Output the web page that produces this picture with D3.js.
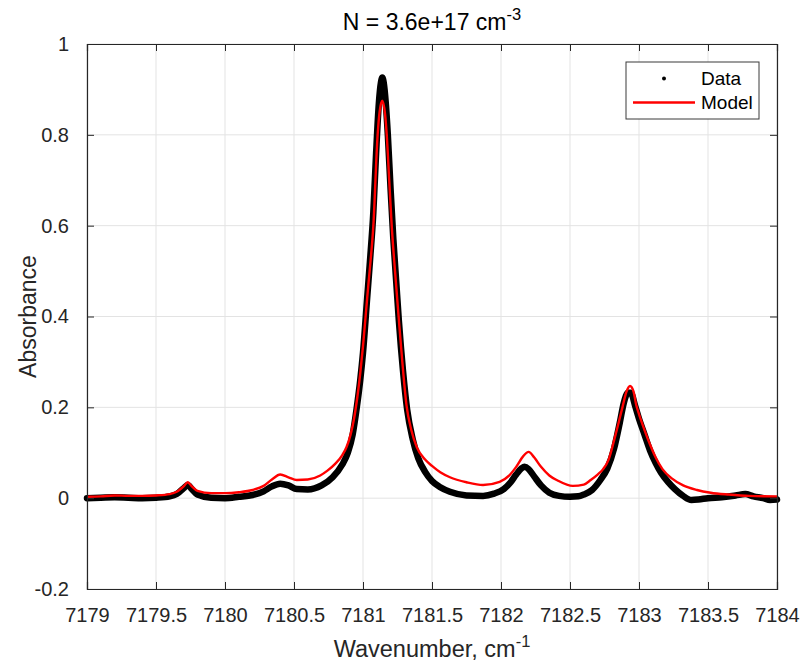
<!DOCTYPE html>
<html>
<head>
<meta charset="utf-8">
<script src="https://cdn.jsdelivr.net/npm/d3@7"></script>
<style>
  body { margin: 0; background: #fff; }
  text { font-family: "Liberation Sans", Arial, Helvetica, sans-serif; }
</style>
</head>
<body>
<div class="chart"></div>
<script>
// measured spectrum (black dots)
const dataX = [7179.00, 7179.10, 7179.20, 7179.30, 7179.40, 7179.50, 7179.60, 7179.65, 7179.70, 7179.73,
  7179.76, 7179.80, 7179.90, 7180.00, 7180.10, 7180.20, 7180.28, 7180.34, 7180.40, 7180.46,
  7180.52, 7180.60, 7180.70, 7180.78, 7180.85, 7180.89, 7180.925, 7180.955, 7180.98, 7181.00,
  7181.03, 7181.05, 7181.075, 7181.095, 7181.115, 7181.13, 7181.14, 7181.15, 7181.165, 7181.18,
  7181.20, 7181.22, 7181.24, 7181.26, 7181.29, 7181.32, 7181.36, 7181.40, 7181.45, 7181.50,
  7181.56, 7181.63, 7181.75, 7181.87, 7181.95, 7182.02, 7182.07, 7182.11, 7182.15, 7182.17,
  7182.20, 7182.24, 7182.29, 7182.35, 7182.42, 7182.50, 7182.56, 7182.60, 7182.66, 7182.72,
  7182.77, 7182.82, 7182.86, 7182.89, 7182.92, 7182.94, 7182.975, 7183.00, 7183.04, 7183.08,
  7183.12, 7183.16, 7183.21, 7183.26, 7183.32, 7183.38, 7183.43, 7183.50, 7183.60, 7183.70,
  7183.77, 7183.83, 7183.90, 7183.95, 7184.00];
const dataY = [0.000, 0.001, 0.002, 0.001, 0.000, 0.001, 0.004, 0.009, 0.022, 0.029,
  0.020, 0.008, 0.001, 0.000, 0.003, 0.007, 0.015, 0.026, 0.032, 0.028,
  0.020, 0.019, 0.028, 0.046, 0.074, 0.100, 0.140, 0.200, 0.260, 0.320,
  0.440, 0.520, 0.630, 0.760, 0.870, 0.915, 0.926, 0.915, 0.870, 0.800,
  0.680, 0.570, 0.480, 0.390, 0.280, 0.195, 0.130, 0.088, 0.058, 0.038,
  0.024, 0.014, 0.006, 0.005, 0.010, 0.020, 0.035, 0.052, 0.066, 0.069,
  0.064, 0.048, 0.028, 0.012, 0.005, 0.003, 0.004, 0.008, 0.018, 0.040,
  0.065, 0.110, 0.165, 0.210, 0.232, 0.232, 0.200, 0.175, 0.140, 0.105,
  0.078, 0.056, 0.036, 0.020, 0.005, -0.004, -0.003, 0.000, 0.002, 0.006,
  0.009, 0.004, 0.000, -0.004, -0.003];

// fitted model (red line)
const modelX = [7179.00, 7179.10, 7179.20, 7179.30, 7179.40, 7179.50, 7179.60, 7179.65, 7179.70, 7179.73,
  7179.76, 7179.80, 7179.90, 7180.00, 7180.10, 7180.20, 7180.28, 7180.34, 7180.40, 7180.46,
  7180.52, 7180.60, 7180.69, 7180.74, 7180.80, 7180.85, 7180.88, 7180.91, 7180.935, 7180.96,
  7180.98, 7181.00, 7181.03, 7181.048, 7181.075, 7181.106, 7181.12, 7181.14, 7181.16, 7181.172,
  7181.19, 7181.208, 7181.232, 7181.258, 7181.285, 7181.315, 7181.35, 7181.39, 7181.45, 7181.50,
  7181.56, 7181.63, 7181.75, 7181.87, 7181.99, 7182.06, 7182.11, 7182.16, 7182.20, 7182.24,
  7182.29, 7182.35, 7182.41, 7182.52, 7182.60, 7182.65, 7182.70, 7182.74, 7182.78, 7182.826,
  7182.88, 7182.91, 7182.935, 7182.96, 7182.98, 7183.00, 7183.04, 7183.08, 7183.12, 7183.17,
  7183.24, 7183.32, 7183.42, 7183.52, 7183.65, 7183.80, 7184.00];
const modelY = [0.003, 0.004, 0.006, 0.005, 0.005, 0.006, 0.009, 0.014, 0.026, 0.035,
  0.026, 0.016, 0.011, 0.011, 0.013, 0.018, 0.027, 0.041, 0.052, 0.046,
  0.040, 0.041, 0.050, 0.060, 0.076, 0.095, 0.112, 0.140, 0.175, 0.225,
  0.275, 0.335, 0.440, 0.500, 0.600, 0.800, 0.850, 0.875, 0.845, 0.800,
  0.700, 0.600, 0.500, 0.400, 0.300, 0.205, 0.150, 0.112, 0.085, 0.071,
  0.057, 0.046, 0.035, 0.029, 0.036, 0.050, 0.069, 0.092, 0.102, 0.090,
  0.069, 0.050, 0.039, 0.027, 0.030, 0.040, 0.052, 0.064, 0.085, 0.135,
  0.200, 0.235, 0.247, 0.235, 0.205, 0.185, 0.150, 0.118, 0.090, 0.064,
  0.043, 0.028, 0.018, 0.012, 0.008, 0.005, 0.004];

const xTicks = [7179, 7179.5, 7180, 7180.5, 7181, 7181.5, 7182, 7182.5, 7183, 7183.5, 7184];
const yTicks = [-0.2, 0, 0.2, 0.4, 0.6, 0.8, 1];
const seriesNames = ["Data", "Model"];

const W = 803, H = 666;
const margin = {top: 44, right: 26, bottom: 77, left: 87};
const width = W - margin.left - margin.right;
const height = H - margin.top - margin.bottom;
const axisColor = "#262626";

const svg = d3.select(".chart")
  .append("svg")
    .attr("width", W)
    .attr("height", H);

const g = svg.append("g")
  .attr("transform", `translate(${margin.left}, ${margin.top})`);

const x = d3.scaleLinear().domain([7179, 7184]).range([0, width]);
const y = d3.scaleLinear().domain([-0.2, 1]).range([height, 0]);

// grid
g.append("g")
  .selectAll("line")
  .data(xTicks)
  .enter()
  .append("line")
    .attr("x1", d => x(d)).attr("x2", d => x(d))
    .attr("y1", 0).attr("y2", height)
    .attr("stroke", "#e3e3e3");
g.append("g")
  .selectAll("line")
  .data(yTicks)
  .enter()
  .append("line")
    .attr("x1", 0).attr("x2", width)
    .attr("y1", d => y(d)).attr("y2", d => y(d))
    .attr("stroke", "#e3e3e3");

const dataPts = dataX.map((v, i) => [v, dataY[i]]);
const modelPts = modelX.map((v, i) => [v, modelY[i]]);

const line = d3.line()
  .x(d => x(d[0]))
  .y(d => y(d[1]))
  .curve(d3.curveMonotoneX);

g.append("path")
  .datum(dataPts)
  .attr("fill", "none")
  .attr("stroke", "#000")
  .attr("stroke-width", 6.5)
  .attr("stroke-linejoin", "round")
  .attr("stroke-linecap", "round")
  .attr("d", line);

g.append("path")
  .datum(modelPts)
  .attr("fill", "none")
  .attr("stroke", "#ff0000")
  .attr("stroke-width", 2.4)
  .attr("stroke-linejoin", "round")
  .attr("d", line);

// axes: bottom/left with labels, top/right ticks only
const tickLen = 7;
const fmt = d => String(+(+d).toFixed(1)); // plain hyphen minus like the original
const xAxis = g.append("g")
  .attr("transform", `translate(0, ${height})`)
  .call(d3.axisBottom(x).tickValues(xTicks).tickSize(-tickLen).tickPadding(19).tickFormat(fmt));
const yAxis = g.append("g")
  .call(d3.axisLeft(y).tickValues(yTicks).tickSize(-tickLen).tickPadding(18).tickFormat(fmt));
const xTop = g.append("g")
  .call(d3.axisTop(x).tickValues(xTicks).tickSize(-tickLen).tickFormat(""));
const yRight = g.append("g")
  .attr("transform", `translate(${width}, 0)`)
  .call(d3.axisRight(y).tickValues(yTicks).tickSize(-tickLen).tickFormat(""));

[xAxis, yAxis, xTop, yRight].forEach(a => {
  a.select(".domain").attr("stroke", axisColor).attr("stroke-width", 1.2);
  a.selectAll(".tick line").attr("stroke", axisColor);
  a.selectAll(".tick text")
    .attr("fill", axisColor)
    .attr("font-size", "20px")
    .attr("font-family", "'Liberation Sans', Arial, sans-serif");
});

// title
const title = svg.append("text")
  .attr("x", margin.left + width / 2)
  .attr("y", 30)
  .attr("text-anchor", "middle")
  .attr("font-size", "23px")
  .attr("fill", "#000");
title.append("tspan").text("N = 3.6e+17 cm");
title.append("tspan").attr("dy", -10).attr("font-size", "16.5px").text("-3");

// x label
const xl = svg.append("text")
  .attr("x", margin.left + width / 2)
  .attr("y", 657)
  .attr("text-anchor", "middle")
  .attr("font-size", "23.5px")
  .attr("fill", axisColor);
xl.append("tspan").text("Wavenumber, cm");
xl.append("tspan").attr("dy", -10).attr("font-size", "16.5px").text("-1");

// y label
svg.append("text")
  .attr("transform", `translate(36, ${margin.top + height / 2}) rotate(-90)`)
  .attr("text-anchor", "middle")
  .attr("font-size", "23px")
  .attr("fill", axisColor)
  .text("Absorbance");

// legend
const lg = svg.append("g").attr("transform", "translate(626, 62)");
lg.append("rect")
  .attr("width", 133).attr("height", 57)
  .attr("fill", "#fff")
  .attr("stroke", "#3a3a3a")
  .attr("stroke-width", 1);
lg.append("circle")
  .attr("cx", 38).attr("cy", 16.5).attr("r", 2)
  .attr("fill", "#000");
lg.append("line")
  .attr("x1", 7).attr("x2", 69)
  .attr("y1", 40.5).attr("y2", 40.5)
  .attr("stroke", "#ff0000").attr("stroke-width", 2.4);
lg.selectAll("text.leg")
  .data(seriesNames)
  .enter()
  .append("text")
    .attr("class", "leg")
    .attr("x", 75)
    .attr("y", (d, i) => 23 + i * 24)
    .attr("font-size", "19px")
    .attr("fill", "#000")
    .text(d => d);
</script>
</body>
</html>
